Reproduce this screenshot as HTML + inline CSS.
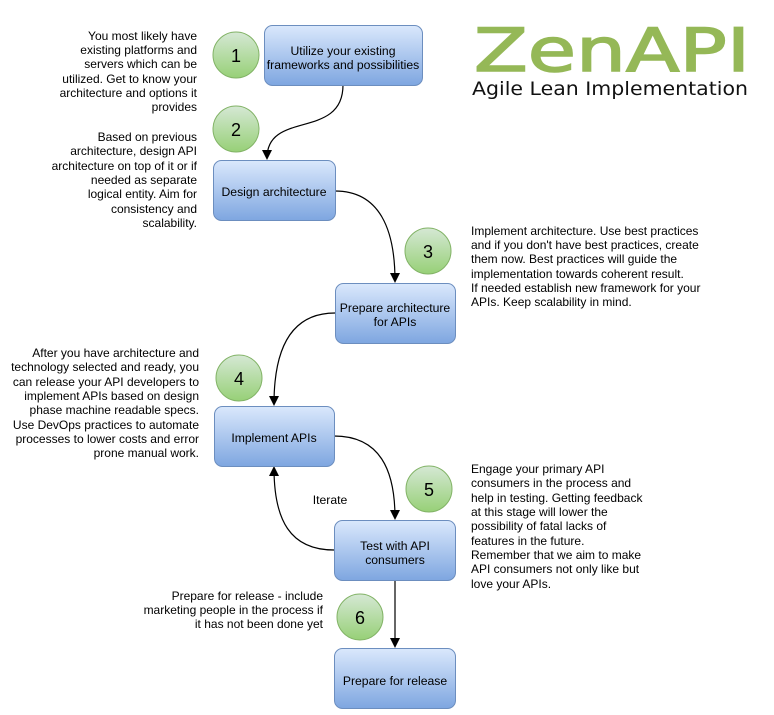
<!DOCTYPE html>
<html><head><meta charset="utf-8"><style>
html,body{margin:0;padding:0;background:#fff;}
svg text{font-family:"Liberation Sans",sans-serif;}
</style></head><body>
<svg width="774" height="710" viewBox="0 0 774 710" xmlns="http://www.w3.org/2000/svg">
<defs>
<linearGradient id="bg" x1="0" y1="0" x2="0" y2="1"><stop offset="0" stop-color="#dae8fc"/><stop offset="1" stop-color="#7ea6e0"/></linearGradient>
<linearGradient id="gg" x1="0" y1="0" x2="0" y2="1"><stop offset="0" stop-color="#d5e8d4"/><stop offset="1" stop-color="#97d077"/></linearGradient>
</defs>
<g fill="none" stroke="#000" stroke-width="1.2">
<path d="M343,85 C343,140 267,110 267,158"/>
<path d="M335,191 C380,191 395,230 395,281"/>
<path d="M335,313 C290,313 274,350 274,404"/>
<path d="M334,436 C380,436 395,470 395,518"/>
<path d="M334,550 C290,550 274,520 274,468"/>
<path d="M395,580 L395,646"/>
</g>
<g fill="#000">
<path d="M262,150 L267,160 L272,150 Z"/>
<path d="M390,273 L395,283 L400,273 Z"/>
<path d="M269,396 L274,406 L279,396 Z"/>
<path d="M390,510 L395,520 L400,510 Z"/>
<path d="M269,476 L274,466 L279,476 Z"/>
<path d="M390,638 L395,648 L400,638 Z"/>
</g>
<g stroke="#6c8ebf" stroke-width="1" fill="url(#bg)">
<rect x="264.5" y="25.5" width="158" height="60" rx="8"/>
<rect x="213.5" y="160.5" width="122" height="60" rx="8"/>
<rect x="335.5" y="283.5" width="120" height="60" rx="8"/>
<rect x="214.5" y="406.5" width="120" height="60" rx="8"/>
<rect x="334.5" y="520.5" width="121" height="60" rx="8"/>
<rect x="334.5" y="648.5" width="121" height="60" rx="8"/>
</g>
<g font-size="12.2" fill="#000" text-anchor="middle">
<text x="343" y="55">Utilize your existing</text>
<text x="343" y="69">frameworks and possibilities</text>
<text x="274" y="196">Design architecture</text>
<text x="395" y="312">Prepare architecture</text>
<text x="395" y="326">for APIs</text>
<text x="274" y="442">Implement APIs</text>
<text x="395" y="550">Test with API</text>
<text x="395" y="564">consumers</text>
<text x="395" y="685">Prepare for release</text>
<text x="330" y="504">Iterate</text>
</g>
<g stroke="#82b366" stroke-width="1" fill="url(#gg)">
<circle cx="236" cy="55" r="23"/>
<circle cx="236" cy="129" r="23"/>
<circle cx="428" cy="251" r="23"/>
<circle cx="239" cy="378" r="23"/>
<circle cx="429" cy="489" r="23"/>
<circle cx="360" cy="617" r="23"/>
</g>
<g font-size="18" fill="#000" text-anchor="middle">
<text x="236" y="62">1</text>
<text x="236" y="136">2</text>
<text x="428" y="258">3</text>
<text x="239" y="385">4</text>
<text x="429" y="496">5</text>
<text x="360" y="624">6</text>
</g>
<g font-size="12" fill="#000" text-anchor="end">
<text x="197" y="40">You most likely have</text>
<text x="197" y="54">existing platforms and</text>
<text x="197" y="68">servers which can be</text>
<text x="197" y="83">utilized. Get to know your</text>
<text x="197" y="97">architecture and options it</text>
<text x="197" y="111">provides</text>
<text x="197" y="141">Based on previous</text>
<text x="197" y="155">architecture, design API</text>
<text x="197" y="170">architecture on top of it or if</text>
<text x="197" y="184">needed as separate</text>
<text x="197" y="198">logical entity. Aim for</text>
<text x="197" y="213">consistency and</text>
<text x="197" y="227">scalability.</text>
<text x="199" y="357">After you have architecture and</text>
<text x="199" y="371">technology selected and ready, you</text>
<text x="199" y="386">can release your API developers to</text>
<text x="199" y="400">implement APIs based on design</text>
<text x="199" y="414">phase machine readable specs.</text>
<text x="199" y="429">Use DevOps practices to automate</text>
<text x="199" y="443">processes to lower costs and error</text>
<text x="199" y="457">prone manual work.</text>
<text x="323" y="600">Prepare for release - include</text>
<text x="323" y="614">marketing people in the process if</text>
<text x="323" y="628">it has not been done yet</text>
</g>
<g font-size="12" fill="#000">
<text x="471" y="235">Implement architecture. Use best practices</text>
<text x="471" y="249">and if you don't have best practices, create</text>
<text x="471" y="263">them now. Best practices will guide the</text>
<text x="471" y="278">implementation towards coherent result.</text>
<text x="471" y="292">If needed establish new framework for your</text>
<text x="471" y="306">APIs. Keep scalability in mind.</text>
<text x="471" y="473">Engage your primary API</text>
<text x="471" y="487">consumers in the process and</text>
<text x="471" y="502">help in testing. Getting feedback</text>
<text x="471" y="516">at this stage will lower the</text>
<text x="471" y="530">possibility of fatal lacks of</text>
<text x="471" y="545">features in the future.</text>
<text x="471" y="559">Remember that we aim to make</text>
<text x="471" y="573">API consumers not only like but</text>
<text x="471" y="588">love your APIs.</text>
</g>
<text x="474" y="71" font-size="60" fill="#95b857" stroke="#95b857" stroke-width="1.5" textLength="276" lengthAdjust="spacingAndGlyphs" style="font-family:'DejaVu Sans',sans-serif">ZenAPI</text>
<text x="472" y="95" font-size="19" fill="#111" textLength="276" lengthAdjust="spacingAndGlyphs" style="font-family:'DejaVu Sans',sans-serif">Agile Lean Implementation</text>
</svg>
</body></html>
